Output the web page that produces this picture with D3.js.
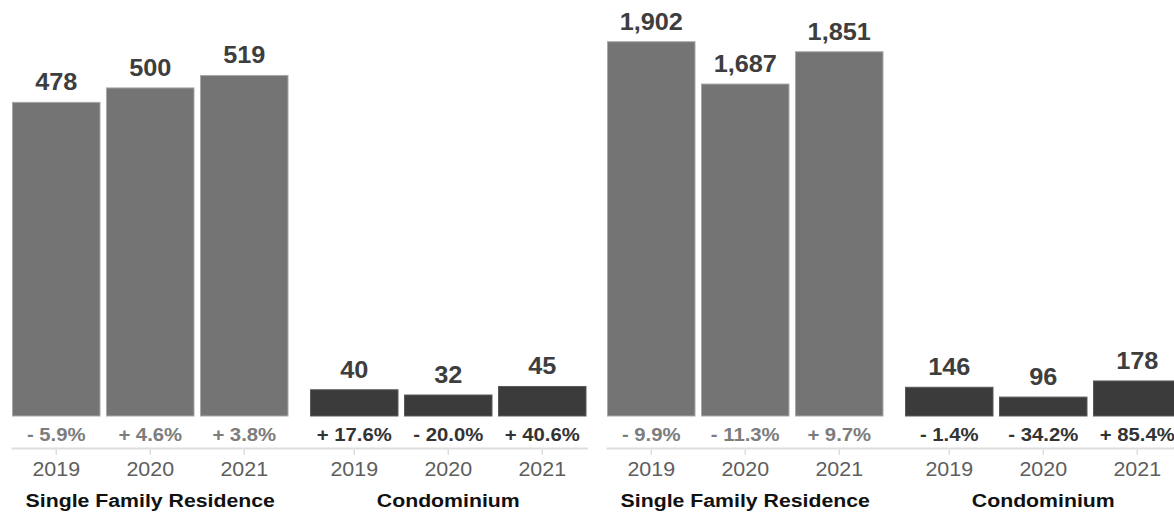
<!DOCTYPE html>
<html>
<head>
<meta charset="utf-8">
<script src="https://cdn.jsdelivr.net/npm/d3@7"></script>
<style>
  html, body { margin: 0; padding: 0; background: #fff; }
  svg { display: block; }
  text { font-family: "Liberation Sans", Arial, Helvetica, sans-serif; }
</style>
</head>
<body>
<svg id="chart" width="1174" height="513"></svg>
<script>
// ---- data ----
const years = ["2019", "2020", "2021"];
const groups = ["Single Family Residence", "Condominium"];

const panelA_sfr = [478, 500, 519];
const panelA_condo = [40, 32, 45];
const panelA_sfrChange = [-5.9, 4.6, 3.8];
const panelA_condoChange = [17.6, -20.0, 40.6];

const panelB_sfr = [1902, 1687, 1851];
const panelB_condo = [146, 96, 178];
const panelB_sfrChange = [-9.9, -11.3, 9.7];
const panelB_condoChange = [-1.4, -34.2, 85.4];

const panels = [
  { values: [panelA_sfr, panelA_condo], changes: [panelA_sfrChange, panelA_condoChange], yMax: 634 },
  { values: [panelB_sfr, panelB_condo], changes: [panelB_sfrChange, panelB_condoChange], yMax: 2114 }
];

// ---- layout ----
const svg = d3.select("#chart");
const panelWidth = 595;
const left0 = 12.5;
const innerW = 573.5;
const baseY = 416;
const topY = 0;
const axisY = 448.5;
const sx = 1.1;

const fillColors = ["#747474", "#3b3b3b"];
const strokeColors = ["#a8a8a8", "#5a5a5a"];
const changeColors = ["#7d7d7d", "#333333"];

const fmtVal = d3.format(",");
const fmtPct = v => (v < 0 ? "- " : "+ ") + d3.format(".1f")(Math.abs(v)) + "%";

function label(g, x, y, txt, size, weight, color, scaleX) {
  g.append("text")
    .attr("transform", `translate(${x},${y}) scale(${scaleX || sx},1)`)
    .attr("text-anchor", "middle")
    .attr("font-size", size)
    .attr("font-weight", weight)
    .attr("fill", color)
    .text(txt);
}

panels.forEach((p, pi) => {
  const g = svg.append("g").attr("transform", `translate(${pi * panelWidth},0)`);
  const xOuter = d3.scaleBand().domain(groups).range([left0, left0 + innerW]).paddingInner(0.0755).paddingOuter(0);
  const xInner = d3.scaleBand().domain(years).range([0, xOuter.bandwidth()]).paddingInner(0.069).paddingOuter(0);
  const y = d3.scaleLinear().domain([0, p.yMax]).range([baseY, topY]);

  // axis line
  g.append("line")
    .attr("x1", left0 - 1).attr("x2", left0 + innerW + 2)
    .attr("y1", axisY).attr("y2", axisY)
    .attr("stroke", "#dedede").attr("stroke-width", 2);

  groups.forEach((grp, gi) => {
    const gx = xOuter(grp);
    const gg = g.append("g").attr("transform", `translate(${gx},0)`);
    const vals = p.values[gi];
    const ch = p.changes[gi];

    gg.selectAll("rect.bar").data(vals).join("rect")
      .attr("class", "bar")
      .attr("x", (d, i) => xInner(years[i]))
      .attr("y", d => y(d))
      .attr("width", xInner.bandwidth())
      .attr("height", d => baseY - y(d))
      .attr("fill", fillColors[gi])
      .attr("stroke", strokeColors[gi])
      .attr("stroke-width", 1);

    vals.forEach((d, i) => {
      const cx = xInner(years[i]) + xInner.bandwidth() / 2;
      label(gg, cx, y(d) - 12, fmtVal(d), 23, "bold", "#3e3e3e");
      label(gg, cx, 441, fmtPct(ch[i]), 17.5, "bold", changeColors[gi], 1.16);
      label(gg, cx, 475.5, years[i], 19.5, "normal", "#5e5e5e");
      gg.append("line")
        .attr("x1", cx).attr("x2", cx)
        .attr("y1", axisY + 1).attr("y2", axisY + 6.5)
        .attr("stroke", "#dddddd").attr("stroke-width", 1.5);
    });

    label(gg, xOuter.bandwidth() / 2, 506.5, grp, 19, "bold", "#111111", 1.12);
  });
});
</script>
</body>
</html>
